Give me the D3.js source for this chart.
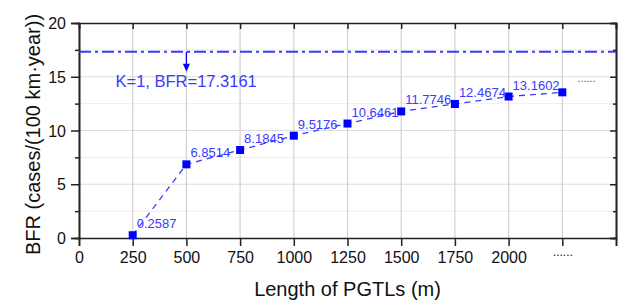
<!DOCTYPE html>
<html lang="en">
<head>
<meta charset="utf-8" />
<style>
  body { margin: 0; background: #fff; }
  text { font-family: "Liberation Sans", Arial, sans-serif; }
</style>
</head>
<body>
<svg width="624" height="303"></svg>
<script src="https://cdnjs.cloudflare.com/ajax/libs/d3/7.8.5/d3.min.js"></script>
<script>
// data
var lengths = [250, 500, 750, 1000, 1250, 1500, 1750, 2000, 2250];
var bfr = [0.2587, 6.8514, 8.1845, 9.5176, 10.6461, 11.7746, 12.4674, 13.1602, 13.55];
var valueLabels = ["0.2587", "6.8514", "8.1845", "9.5176", "10.6461", "11.7746", "12.4674", "13.1602", ""];
var xTicks = [0, 250, 500, 750, 1000, 1250, 1500, 1750, 2000, 2250, 2500];
var xTickLabels = ["0", "250", "500", "750", "1000", "1250", "1500", "1750", "2000", "......", ""];
var yTicks = [0, 5, 10, 15, 20];
var yMinor = [2.5, 7.5, 12.5, 17.5];
var kOneBfr = 17.3161;
var kOneLabel = "K=1, BFR=17.3161";

var svg = d3.select("svg"),
    pLeft = 79, pRight = 616, pTop = 23, pBottom = 238,
    blue = "#0000ff",
    lightBlue = "#3a3aff";

var x = d3.scaleLinear().domain([0, 2500]).range([pLeft, pRight]);
var y = d3.scaleLinear().domain([0, 20]).range([pBottom, pTop]);

// grid
svg.append("g").selectAll("line").data(yMinor).join("line")
  .attr("x1", pLeft).attr("x2", pRight)
  .attr("y1", d => y(d)).attr("y2", d => y(d))
  .attr("stroke", "#efefef").attr("stroke-width", 1.2);
svg.append("g").selectAll("line").data(yTicks.slice(1, -1)).join("line")
  .attr("x1", pLeft).attr("x2", pRight)
  .attr("y1", d => y(d)).attr("y2", d => y(d))
  .attr("stroke", "#dcdcdc").attr("stroke-width", 1.2);
svg.append("g").selectAll("line").data(xTicks.slice(1, -1)).join("line")
  .attr("x1", d => x(d)).attr("x2", d => x(d))
  .attr("y1", pTop).attr("y2", pBottom)
  .attr("stroke", "#d2d2d2").attr("stroke-width", 1.2);

// axes
var axisColor = "#222";
var xAxis = svg.append("g").attr("transform", "translate(0," + pBottom + ")")
  .call(d3.axisBottom(x).tickValues(xTicks).tickSize(8).tickPadding(6)
    .tickFormat((d, i) => xTickLabels[i]));
var yAxis = svg.append("g").attr("transform", "translate(" + pLeft + ",0)")
  .call(d3.axisLeft(y).tickValues(yTicks).tickSize(8).tickPadding(5));
var yAxisMinor = svg.append("g").attr("transform", "translate(" + pLeft + ",0)")
  .call(d3.axisLeft(y).tickValues(yMinor).tickSize(4).tickFormat(""));
var topAxis = svg.append("g").attr("transform", "translate(0," + pTop + ")")
  .call(d3.axisTop(x).tickValues(xTicks).tickSize(-6).tickFormat(""));
var rightAxis = svg.append("g").attr("transform", "translate(" + pRight + ",0)")
  .call(d3.axisRight(y).tickValues(yTicks).tickSize(-6).tickFormat(""));
var rightMinor = svg.append("g").attr("transform", "translate(" + pRight + ",0)")
  .call(d3.axisRight(y).tickValues(yMinor).tickSize(-3).tickFormat(""));

[xAxis, yAxis, yAxisMinor, topAxis, rightAxis, rightMinor].forEach(function(g) {
  g.select(".domain").attr("stroke", axisColor).attr("stroke-width", 1.6);
  g.selectAll(".tick line").attr("stroke", axisColor).attr("stroke-width", 1.5);
  g.selectAll(".tick text").attr("fill", "#111").style("font-size", "16px")
    .style("font-family", "Liberation Sans, Arial, sans-serif");
});
yAxis.selectAll(".tick text").attr("dy", "0.35em");
// the "......" tick label is set smaller and a little higher
xAxis.selectAll(".tick text").filter(d => d === 2250)
  .style("font-size", "12px").attr("dy", "0.35em");

// K=1 reference line
svg.append("line")
  .attr("x1", pLeft).attr("x2", pRight)
  .attr("y1", y(kOneBfr)).attr("y2", y(kOneBfr))
  .attr("stroke", lightBlue).attr("stroke-width", 2)
  .attr("stroke-dasharray", "12,4,3,4");

svg.append("line")
  .attr("x1", x(500)).attr("x2", x(500))
  .attr("y1", y(kOneBfr)).attr("y2", y(kOneBfr) + 14)
  .attr("stroke", blue).attr("stroke-width", 1.3);
svg.append("path")
  .attr("d", "M" + (x(500) - 3.5) + "," + (y(kOneBfr) + 12) + "L" + (x(500) + 3.5) + "," + (y(kOneBfr) + 12) +
    "L" + x(500) + "," + (y(kOneBfr) + 20) + "Z")
  .attr("fill", blue);

svg.append("text")
  .attr("x", x(170)).attr("y", y(kOneBfr) + 35)
  .attr("fill", lightBlue).style("font-size", "16.5px")
  .text(kOneLabel);

// series
var pts = lengths.map((d, i) => [d, bfr[i]]);
svg.append("path")
  .datum(pts)
  .attr("d", d3.line().x(d => x(d[0])).y(d => y(d[1])))
  .attr("fill", "none").attr("stroke", lightBlue)
  .attr("stroke-width", 1.3).attr("stroke-dasharray", "6,5");

svg.append("g").selectAll("rect").data(pts).join("rect")
  .attr("x", d => x(d[0]) - 4).attr("y", d => y(d[1]) - 4)
  .attr("width", 8).attr("height", 8)
  .attr("fill", blue);

svg.append("g").selectAll("text").data(pts).join("text")
  .attr("x", d => x(d[0]) + 4).attr("y", d => y(d[1]) - 7)
  .attr("fill", lightBlue).style("font-size", "13px")
  .text((d, i) => valueLabels[i]);

// continuation dots
svg.append("text")
  .attr("x", x(2320)).attr("y", y(14.5))
  .attr("fill", lightBlue).style("font-size", "11px")
  .text("......");

// axis titles
svg.append("text")
  .attr("x", (pLeft + pRight) / 2).attr("y", 296)
  .attr("text-anchor", "middle").attr("fill", "#111")
  .style("font-size", "20px")
  .text("Length of PGTLs (m)");

svg.append("text")
  .attr("transform", "translate(40," + ((pTop + pBottom) / 2 + 4) + ") rotate(-90)")
  .attr("text-anchor", "middle").attr("fill", "#111")
  .style("font-size", "20px")
  .text("BFR (cases/(100 km·year))");
</script>
</body>
</html>
